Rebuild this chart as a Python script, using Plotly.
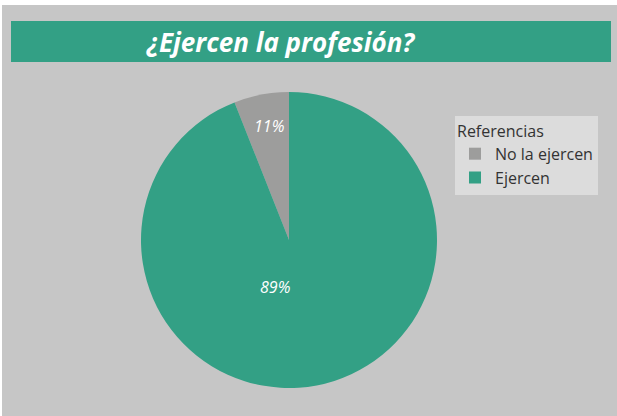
import plotly.graph_objects as go

W, H = 617, 416

# Data
categories = ["No la ejercen", "Ejercen"]
slice_shares = [6, 94]          # share of the circle each slice occupies as drawn
printed_labels = ["11%", "89%"]  # percentages printed on the slices
colors = ["#9d9d9c", "#33a085"]

title_text = "¿Ejercen la profesión?"
legend_title = "Referencias"

def px_x(x):
    return x / W

def px_y(y):
    return 1 - y / H

cx, cy, r = 289, 240, 148

fig = go.Figure()
fig.add_trace(go.Pie(
    labels=categories,
    values=slice_shares,
    marker=dict(colors=colors, line=dict(width=0)),
    sort=False,
    direction="clockwise",
    rotation=-slice_shares[0] / sum(slice_shares) * 360,
    textinfo="none",
    hoverinfo="label",
    domain=dict(x=[px_x(cx - r), px_x(cx + r)], y=[px_y(cy + r), px_y(cy - r)]),
))

label_pos = [(269, 126), (275, 287)]
annotations = []
for txt, (x, y) in zip(printed_labels, label_pos):
    annotations.append(dict(
        x=px_x(x), y=px_y(y), xref="paper", yref="paper",
        text=f"<i>{txt}</i>", showarrow=False,
        font=dict(family="Open Sans", size=16, color="white"),
        xanchor="center", yanchor="middle",
    ))
annotations.append(dict(
    x=px_x(280), y=px_y(42), xref="paper", yref="paper",
    text=f"<b><i>{title_text}</i></b>", showarrow=False,
    font=dict(family="Open Sans", size=26, color="white"),
    xanchor="center", yanchor="middle",
))

shapes = [
    dict(type="rect", xref="paper", yref="paper",
         x0=px_x(2), x1=1, y0=0, y1=px_y(5),
         fillcolor="#c6c6c6", line=dict(width=0), layer="below"),
    dict(type="rect", xref="paper", yref="paper",
         x0=px_x(11), x1=px_x(611), y0=px_y(62), y1=px_y(21),
         fillcolor="#33a085", line=dict(width=0), layer="below"),
]

fig.update_layout(
    width=W, height=H,
    margin=dict(l=0, r=0, t=0, b=0),
    paper_bgcolor="white",
    plot_bgcolor="rgba(0,0,0,0)",
    shapes=shapes,
    annotations=annotations,
    showlegend=True,
    legend=dict(
        title=dict(text=legend_title, font=dict(family="Open Sans", size=16, color="#333333")),
        font=dict(family="Open Sans", size=16, color="#333333"),
        bgcolor="#dcdcdc",
        x=px_x(455), y=px_y(116), xanchor="left", yanchor="top",
        itemsizing="constant",
        tracegroupgap=0,
    ),
)

fig.write_html(
    "out.html",
    config={"displayModeBar": False},
    post_script="document.body.style.margin='0';document.body.style.overflow='hidden';",
)
